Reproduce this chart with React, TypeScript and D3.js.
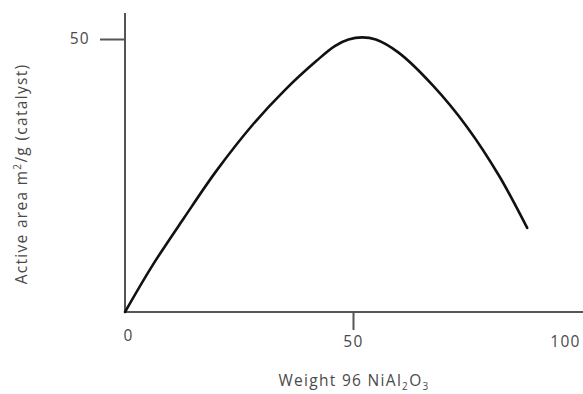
import { useEffect, useRef } from "react";
import * as d3 from "d3";

// weight % NiAl2O3 vs active area (m2/g catalyst)
const weightPct = [0, 6, 13, 20, 28, 35, 42, 46, 49, 52, 55, 60, 67.5, 75, 82, 88.2];
const activeArea = [0, 8.5, 17.3, 25.8, 34.3, 40.6, 46.0, 48.7, 49.9, 50.3, 49.9, 47.5, 41.5, 33.9, 25.0, 15.4];
const xTicks = [0, 50, 100];
const yTicks = [50];

export default function App() {
  const ref = useRef<SVGSVGElement>(null);

  useEffect(() => {
    const svg = d3.select(ref.current);
    svg.selectAll("*").remove();
    const width = 583;
    const height = 394;
    const margin = { top: 13, right: 2, bottom: 82, left: 125 };
    const font = "'Open Sans', sans-serif";
    const textColor = "#4a4a4a";
    const axisColor = "#555";
    const spacing = "1.3px";

    const x = d3.scaleLinear().domain([0, 100]).range([margin.left, 581]);
    const y = d3.scaleLinear().domain([0, 50]).range([height - margin.bottom, 39]);

    // x axis
    const gx = svg
      .append("g")
      .attr("transform", `translate(0,${y(0)})`)
      .call(d3.axisBottom(x).tickValues(xTicks).tickSizeOuter(0));
    gx.select(".domain").attr("d", `M${margin.left},0H${width}`).attr("stroke", axisColor).attr("stroke-width", 2);
    gx.selectAll(".tick line")
      .attr("stroke", axisColor)
      .attr("stroke-width", 2)
      .attr("y2", (d) => (d === 50 ? 18 : 0));
    gx.selectAll(".tick text")
      .attr("fill", textColor)
      .style("font-family", font)
      .style("font-size", "15.5px")
      .style("letter-spacing", spacing)
      .attr("y", (d) => (d === 0 ? 18 : 24))
      .attr("dx", (d) => (d === 0 ? 3 : d === 100 ? -16 : 0));

    // y axis
    const gy = svg
      .append("g")
      .attr("transform", `translate(${margin.left},0)`)
      .call(d3.axisLeft(y).tickValues(yTicks).tickSize(25).tickPadding(10).tickSizeOuter(0));
    gy.select(".domain").attr("d", `M0,${margin.top}V${y(0)}`).attr("stroke", axisColor).attr("stroke-width", 2);
    gy.selectAll(".tick line").attr("stroke", axisColor).attr("stroke-width", 2);
    gy.selectAll(".tick text")
      .attr("fill", textColor)
      .style("font-family", font)
      .style("font-size", "15.5px")
      .style("letter-spacing", spacing);

    // curve
    const pts = weightPct.map((w, i) => [w, activeArea[i]] as [number, number]);
    const line = d3
      .line<[number, number]>()
      .x((d) => x(d[0]))
      .y((d) => y(d[1]))
      .curve(d3.curveCatmullRom.alpha(0.5));
    svg
      .append("path")
      .datum(pts)
      .attr("d", line)
      .attr("fill", "none")
      .attr("stroke", "#111")
      .attr("stroke-width", 2.6)
      .attr("stroke-linecap", "round");

    // axis titles
    const xt = svg
      .append("text")
      .attr("x", 354)
      .attr("y", 386)
      .attr("text-anchor", "middle")
      .attr("fill", textColor)
      .style("font-family", font)
      .style("font-size", "15.5px")
      .style("letter-spacing", spacing);
    xt.append("tspan").text("Weight 96 NiAl");
    xt.append("tspan").text("2").attr("dy", 4).style("font-size", "10px");
    xt.append("tspan").text("O").attr("dy", -4);
    xt.append("tspan").text("3").attr("dy", 4).style("font-size", "10px");

    const yt = svg
      .append("text")
      .attr("transform", `translate(27,174) rotate(-90)`)
      .attr("text-anchor", "middle")
      .attr("fill", textColor)
      .style("font-family", font)
      .style("font-size", "15.5px")
      .style("letter-spacing", spacing);
    yt.append("tspan").text("Active area m");
    yt.append("tspan").text("2").attr("dy", -6).style("font-size", "10px");
    yt.append("tspan").text("/g (catalyst)").attr("dy", 6);
  }, []);

  return (
    <svg
      ref={ref}
      width={583}
      height={394}
      style={{ position: "absolute", left: 0, top: 0, background: "#fff" }}
    ></svg>
  );
}
